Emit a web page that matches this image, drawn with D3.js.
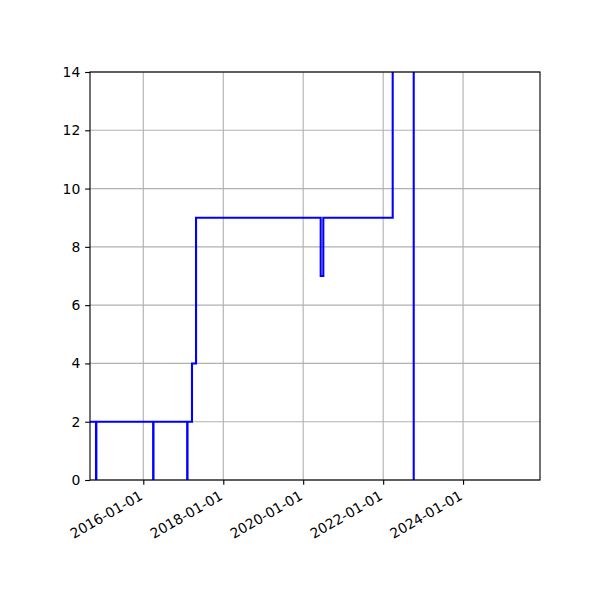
<!DOCTYPE html>
<html>
<head>
<meta charset="utf-8">
<script src="https://cdn.jsdelivr.net/npm/d3@7"></script>
<style>
    body { margin: 0; background: white; }
    text { font-family: "DejaVu Sans", sans-serif; }
</style>
</head>
<body>
<svg id="canvas" width="600" height="600"></svg>
<script>
let stepDates = [
    '2014-09-01', '2014-10-26', '2014-10-29', '2016-03-31', '2016-04-03',
    '2017-02-05', '2017-02-08', '2017-03-21', '2017-04-27', '2020-06-09',
    '2020-07-03', '2022-03-29', '2022-10-07'
]
let stepValues = [2, 0, 2, 0, 2, 0, 2, 4, 9, 7, 9, 16, 0]

let xTickDates = ['2016-01-01', '2018-01-01', '2020-01-01', '2022-01-01', '2024-01-01']
let yTicks = [0, 2, 4, 6, 8, 10, 12, 14]

let parseDate = d3.timeParse('%Y-%m-%d')
let formatDate = d3.timeFormat('%Y-%m-%d')

let drawChart = () => {
    let canvas = d3.select('#canvas')

    let left = 90
    let right = 540
    let top = 72
    let bottom = 480

    // matplotlib points -> px at 100 dpi
    let pt = 100 / 72

    let points = stepDates.map((d, i) => {
        return { date: parseDate(d), value: stepValues[i] }
    })

    let xScale = d3.scaleTime()
        .domain([parseDate('2014-09-01'), parseDate('2025-12-04')])
        .range([left, right])

    let yScale = d3.scaleLinear()
        .domain([0, 14])
        .range([bottom, top])

    let xTicks = xTickDates.map(parseDate)

    // grid
    canvas.append('g')
        .selectAll('line')
        .data(xTicks)
        .enter()
        .append('line')
        .attr('x1', (d) => xScale(d))
        .attr('x2', (d) => xScale(d))
        .attr('y1', top)
        .attr('y2', bottom)
        .attr('stroke', '#b0b0b0')
        .attr('stroke-width', 0.8 * pt)

    canvas.append('g')
        .selectAll('line')
        .data(yTicks)
        .enter()
        .append('line')
        .attr('x1', left)
        .attr('x2', right)
        .attr('y1', (d) => yScale(d))
        .attr('y2', (d) => yScale(d))
        .attr('stroke', '#b0b0b0')
        .attr('stroke-width', 0.8 * pt)

    canvas.append('clipPath')
        .attr('id', 'plotclip')
        .append('rect')
        .attr('x', left)
        .attr('y', top)
        .attr('width', right - left)
        .attr('height', bottom - top)

    let line = d3.line()
        .x((d) => xScale(d.date))
        .y((d) => yScale(d.value))
        .curve(d3.curveStepAfter)

    canvas.append('path')
        .datum(points)
        .attr('d', line)
        .attr('clip-path', 'url(#plotclip)')
        .attr('fill', 'none')
        .attr('stroke', '#0000ff')
        .attr('stroke-width', 1.5 * pt)

    // axes
    let xAxis = d3.axisBottom(xScale)
        .tickValues(xTicks)
        .tickFormat(formatDate)
        .tickSize(3.5 * pt)
        .tickPadding(3.5 * pt)

    let yAxis = d3.axisLeft(yScale)
        .tickValues(yTicks)
        .tickSize(3.5 * pt)
        .tickPadding(3.5 * pt)

    let xg = canvas.append('g')
        .attr('transform', `translate(0,${bottom})`)
        .call(xAxis)

    xg.select('.domain').remove()
    xg.selectAll('line').attr('stroke', 'black').attr('stroke-width', 0.8 * pt)
    xg.selectAll('text')
        .attr('fill', 'black')
        .attr('font-size', '13.9px')
        .attr('font-family', 'DejaVu Sans')
        .attr('text-anchor', 'end')
        .attr('y', 0)
        .attr('dy', '0.71em')
        .attr('transform', 'translate(-5,10) rotate(-30)')

    let yg = canvas.append('g')
        .attr('transform', `translate(${left},0)`)
        .call(yAxis)

    yg.select('.domain').remove()
    yg.selectAll('line').attr('stroke', 'black').attr('stroke-width', 0.8 * pt)
    yg.selectAll('text')
        .attr('fill', 'black')
        .attr('font-size', '13.9px')
        .attr('font-family', 'DejaVu Sans')

    canvas.append('rect')
        .attr('x', left)
        .attr('y', top)
        .attr('width', right - left)
        .attr('height', bottom - top)
        .attr('fill', 'none')
        .attr('stroke', 'black')
        .attr('stroke-width', 0.8 * pt)
}

drawChart()
</script>
</body>
</html>
